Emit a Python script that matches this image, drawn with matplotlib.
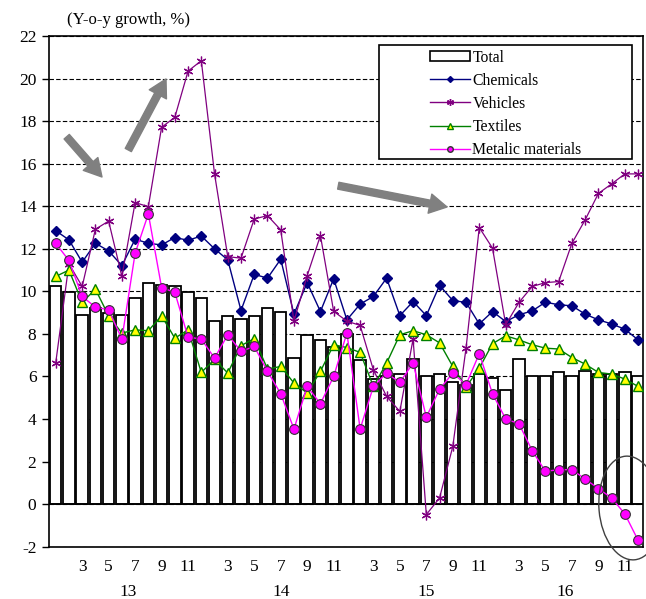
import matplotlib
matplotlib.use("Agg")
import matplotlib.pyplot as plt
from matplotlib.patches import Rectangle, Ellipse, Patch
from matplotlib.lines import Line2D
import numpy as np

plt.rcParams['font.family'] = ['Liberation Serif', 'DejaVu Serif']
plt.rcParams['axes.unicode_minus'] = False

# Category axis: month labels (every other month) and year labels below
month_labels = ["", "", "3", "", "5", "", "7", "", "9", "", "11",
                "", "", "3", "", "5", "", "7", "", "9", "", "11",
                "", "", "3", "", "5", "", "7", "", "9", "", "11",
                "", "", "3", "", "5", "", "7", "", "9", "", "11",
                ""]
year_labels = ["13", "14", "15", "16"]

# Year-on-year growth, %
total = [10.27, 9.96, 8.87, 9.2, 9.0, 8.87, 9.71, 10.38, 10.3, 10.27, 9.96, 9.71,
         8.6, 8.82, 8.68, 8.82, 9.24, 9.04, 6.89, 7.96, 7.72, 7.4, 8.0, 6.78,
         5.9, 6.0, 6.13, 6.82, 6.0, 6.13, 5.72, 5.6, 6.13, 5.92, 5.38, 6.83,
         6.0, 6.0, 6.19, 6.0, 6.25, 6.13, 6.1, 6.19, 6.0]
chemicals = [12.85, 12.42, 11.37, 12.26, 11.9, 11.21, 12.45, 12.26, 12.18, 12.53, 12.4, 12.6,
             12.0, 11.48, 9.1, 10.8, 10.62, 11.51, 8.93, 10.41, 9.05, 10.59, 8.66, 9.4,
             9.76, 10.62, 8.86, 9.52, 8.86, 10.28, 9.57, 9.48, 8.47, 9.05, 8.58, 8.9,
             9.08, 9.49, 9.37, 9.32, 8.93, 8.66, 8.47, 8.22, 7.72]
vehicles = [6.63, 11.3, 10.23, 12.92, 13.3, 10.7, 14.17, 13.98, 17.71, 18.18, 20.35, 20.84,
            15.52, 11.63, 11.56, 13.4, 13.56, 12.89, 8.6, 10.74, 12.62, 9.06, 8.6, 8.4,
            6.31, 5.06, 4.36, 7.76, -0.49, 0.29, 2.71, 7.33, 13.0, 12.03, 8.43, 9.48,
            10.23, 10.41, 10.46, 12.26, 13.36, 14.6, 15.05, 15.52, 15.52]
textiles = [10.7, 11.0, 9.48, 10.1, 8.85, 8.04, 8.19, 8.15, 8.85, 7.8, 8.19, 6.19,
            6.8, 6.16, 7.45, 7.78, 6.35, 6.47, 5.69, 5.22, 6.24, 7.49, 7.36, 7.13,
            5.53, 6.63, 7.96, 8.15, 7.96, 7.58, 6.47, 5.5, 6.39, 7.54, 7.91, 7.72,
            7.49, 7.33, 7.29, 6.89, 6.58, 6.19, 6.11, 5.88, 5.53]
metalic = [12.26, 11.45, 9.76, 9.26, 9.13, 7.76, 11.79, 13.64, 10.18, 9.95, 7.85, 7.76,
           6.86, 7.96, 7.18, 7.41, 6.24, 5.19, 3.53, 5.53, 4.72, 6.0, 8.04, 3.53,
           5.53, 6.16, 5.72, 6.63, 4.09, 5.4, 6.16, 5.61, 7.07, 5.19, 4.0, 3.78,
           2.51, 1.54, 1.62, 1.62, 1.18, 0.73, 0.29, -0.46, -1.7]

W, H = 646, 599
fig = plt.figure(figsize=(W / 100, H / 100), dpi=100)
ax_left, ax_right, ax_top, ax_bottom = 49, 643, 36, 546.7
ax = fig.add_axes([ax_left / W, 1 - ax_bottom / H,
                   (ax_right - ax_left) / W, (ax_bottom - ax_top) / H])

x = np.arange(len(total))
ax.bar(x, total, width=0.86, color='white', edgecolor='black', linewidth=1.3, zorder=2)
ax.axhline(0, color='black', lw=1.1, zorder=2.5)

ax.plot(x, chemicals, color='#000080', lw=1, marker='D', ms=5,
        mfc='#000080', mec='#000080', zorder=3)
ax.plot(x, vehicles, color='#800080', lw=0.9, marker=(6, 2, 0), ms=7,
        mec='#800080', mew=0.9, zorder=4)
ax.plot(x, textiles, color='#008000', lw=1, marker='^', ms=7,
        mfc='#FFFF00', mec='#008000', mew=1, zorder=5)
ax.plot(x, metalic, color='#FF00FF', lw=1, marker='o', ms=7,
        mfc='#FF00FF', mec='#333333', mew=0.8, zorder=6)

ax.set_xlim(-0.506, 44.37)
ax.set_ylim(-2, 22)
ax.set_yticks(np.arange(-2, 23, 2))
ax.yaxis.grid(True, color='black', lw=0.8, linestyle=(0, (4, 2)))
ax.set_axisbelow(True)
ax.set_xticks(x)
ax.set_xticklabels(month_labels)
ax.tick_params(axis='x', length=0, pad=9, labelsize=12.5)
ax.tick_params(axis='y', length=5, width=1, direction='out', pad=4, labelsize=12.5)
for s in ax.spines.values():
    s.set_linewidth(1.2)

# Year labels beneath the month labels
year_pos = [5.5, 17.0, 28.0, 38.5]
for xp, lab in zip(year_pos, year_labels):
    ax.text(xp, -(591.7 - ax_bottom) / (ax_bottom - ax_top), lab,
            transform=ax.get_xaxis_transform(), ha='center', va='center', fontsize=12.5)

fig.text(67 / W, 1 - 20 / H, "(Y-o-y growth, %)", fontsize=12, ha='left', va='center')

# Trend arrows
arrow_style = 'simple,head_length=1.25,head_width=1.4,tail_width=0.5'
for (x0, y0), (x1, y1) in [((66.7, 136.7), (102, 177)),
                           ((128.3, 150), (166, 79)),
                           ((338.3, 185.7), (447, 207))]:
    ax.annotate("", xy=(x1, H - y1), xytext=(x0, H - y0), xycoords='figure pixels',
                textcoords='figure pixels',
                arrowprops=dict(arrowstyle=arrow_style, mutation_scale=10,
                                color='#808080', shrinkA=0, shrinkB=0), zorder=7)

# Highlight ring around the latest months
fig.add_artist(Ellipse((6.30, (H - 508) / 100), 0.62, 1.04, angle=5,
                       transform=fig.dpi_scale_trans, fill=False,
                       edgecolor='#404040', lw=1.0, zorder=12))

# Legend with a fixed-size frame
frame = Rectangle((379 / W, 1 - 159 / H), (632 - 379) / W, (159 - 45) / H,
                  transform=fig.transFigure, facecolor='white', edgecolor='black',
                  lw=1.2, zorder=10)
fig.add_artist(frame)
handles = [
    Patch(facecolor='white', edgecolor='black', lw=1.2),
    Line2D([], [], color='#000080', lw=1, marker='D', ms=3, mfc='#000080', mec='#000080'),
    Line2D([], [], color='#800080', lw=1, marker=(6, 2, 0), ms=5, mec='#800080'),
    Line2D([], [], color='#008000', lw=1, marker='^', ms=4, mfc='#FFFF00', mec='#008000'),
    Line2D([], [], color='#FF00FF', lw=1, marker='o', ms=4, mfc='#FF00FF', mec='#333333'),
]
labels = ["Total", "Chemicals", "Vehicles", "Textiles", "Metalic materials"]
leg = fig.legend(handles, labels, loc='upper left', bbox_to_anchor=(430 / W, 1 - 49.5 / H),
                 frameon=False, fontsize=11.3, handlelength=2.55, handletextpad=0.15,
                 borderpad=0, borderaxespad=0, labelspacing=0.45, handleheight=0.55)
leg.set_zorder(11)

fig.savefig("out.png", dpi=100)
